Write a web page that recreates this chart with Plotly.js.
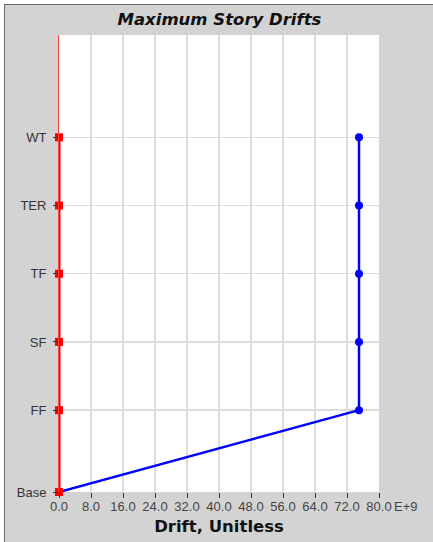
<!DOCTYPE html>
<html>
<head>
<meta charset="utf-8">
<script src="https://cdn.plot.ly/plotly-3.0.1.min.js"></script>
<style>
html,body{margin:0;padding:0;background:#ffffff;overflow:hidden;}
#frame{position:absolute;left:4px;top:4px;width:429px;height:538px;border-top:1px solid #6a6a6a;border-left:1px solid #6a6a6a;background:#d3d3d3;}
#chart{width:429px;height:538px;}
</style>
</head>
<body>
<div id="frame"><div id="chart"></div></div>
<script>
// Story levels (elevation units) and labels
var stories = ["Base", "FF", "SF", "TF", "TER", "WT"];
var elevations = [0, 12, 22, 32, 42, 52];
// Drift values (x1e9)
var driftRed = [0, 0, 0, 0, 0, 0];
var driftBlue = [0, 75, 75, 75, 75, 75];
var xTicks = [0, 8, 16, 24, 32, 40, 48, 56, 64, 72, 80];
var xTickText = ["0.0","8.0","16.0","24.0","32.0","40.0","48.0","56.0","64.0","72.0","80.0"];

var traces = [
  {x: driftBlue, y: elevations, mode: "lines+markers", type: "scatter",
   line: {color: "#0000ff", width: 2.5}, marker: {symbol: "circle", size: 8, color: "#0000ff"},
   hoverinfo: "skip", showlegend: false, cliponaxis: false},
  {x: driftRed, y: elevations, mode: "lines+markers", type: "scatter",
   line: {color: "#ff0000", width: 3}, marker: {symbol: "square", size: 8, color: "#ff0000"},
   hoverinfo: "skip", showlegend: false, cliponaxis: false}
];

var tickFont = "Liberation Sans, Arial, sans-serif";
var layout = {
  width: 429, height: 538,
  margin: {l: 54, r: 55, t: 30, b: 51, pad: 0},
  paper_bgcolor: "#d3d3d3",
  plot_bgcolor: "#ffffff",
  font: {family: "DejaVu Sans, Verdana, sans-serif", color: "#333333", size: 11},
  title: {text: "<b><i>Maximum Story Drifts</i></b>", x: 0.5, xanchor: "center", y: 0.985, yanchor: "top",
          font: {size: 16.5, color: "#111111", family: "DejaVu Sans, Verdana, sans-serif"}},
  xaxis: {
    range: [0, 80], tickvals: xTicks, ticktext: xTickText,
    showgrid: true, gridcolor: "#dcdcdc", gridwidth: 1.5, zeroline: false,
    ticks: "outside", ticklen: 5, tickcolor: "#333333", tickwidth: 1,
    ticklabelstandoff: -3,
    showline: false, tickfont: {size: 13, color: "#444444", family: tickFont},
    title: {text: "<b>Drift, Unitless</b>", standoff: 7, font: {size: 16.5, color: "#111111"}}
  },
  yaxis: {
    range: [0, 67], tickvals: elevations, ticktext: stories,
    showgrid: true, gridcolor: "#dcdcdc", gridwidth: 1.5, zeroline: false,
    ticks: "outside", ticklen: 5, tickcolor: "#333333", tickwidth: 1,
    ticklabelstandoff: 4,
    showline: true, linecolor: "#ff4040", linewidth: 1,
    tickfont: {size: 13, color: "#333333", family: tickFont}
  },
  annotations: [
    {text: "E+9", xref: "paper", yref: "paper", x: 1.0, y: 0, xanchor: "left", yanchor: "top",
     xshift: 13, yshift: -5, showarrow: false, font: {size: 13, color: "#444444", family: tickFont}}
  ]
};

Plotly.newPlot("chart", traces, layout, {displayModeBar: false, staticPlot: true});
</script>
</body>
</html>
